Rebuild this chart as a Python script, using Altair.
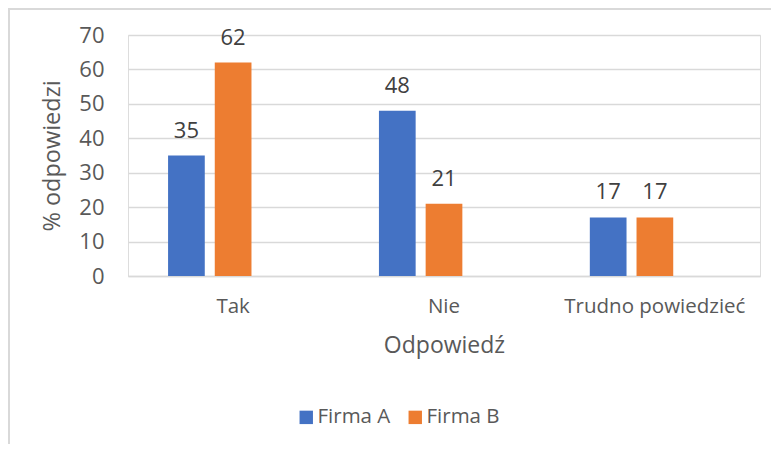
import altair as alt
import pandas as pd

categories = ["Tak", "Nie", "Trudno powiedzieć"]
series = ["Firma A", "Firma B"]
firma_a = [35, 48, 17]
firma_b = [62, 21, 17]
colors = ["#4472C4", "#ED7D31"]

rows = []
for i, c in enumerate(categories):
    rows.append({"odp": c, "firma": "Firma A", "val": firma_a[i]})
    rows.append({"odp": c, "firma": "Firma B", "val": firma_b[i]})
df = pd.DataFrame(rows)

W, H = 632, 241
FONT = "Open Sans"

x = alt.X("odp:N", sort=categories, title="Odpowiedź",
          scale=alt.Scale(paddingInner=0.383, paddingOuter=0.19),
          axis=alt.Axis(labelAngle=0, ticks=False, domain=True, domainColor="#d9d9d9",
                        domainWidth=1.5, labelPadding=20, titlePadding=18, labelLimit=400,
                        labelFontSize=20.5, titleFontSize=23, labelColor="#595959",
                        titleColor="#595959", labelFont=FONT, titleFont=FONT,
                        titleFontWeight="normal"))
xo = alt.XOffset("firma:N", scale=alt.Scale(domain=["Firma A", "Firma B", "_"],
                                            paddingInner=0.214, paddingOuter=0))
y = alt.Y("val:Q", title="% odpowiedzi",
          scale=alt.Scale(domain=[0, 70], nice=False),
          axis=alt.Axis(values=list(range(0, 71, 10)), domain=False, ticks=False,
                        labelPadding=24, gridColor="#d9d9d9", gridWidth=1.5,
                        labelFontSize=22, titleFontSize=23.5, labelColor="#595959",
                        titleColor="#595959", labelFont=FONT, titleFont=FONT,
                        titleFontWeight="normal", titlePadding=14))

base = alt.Chart(df)
bars = base.mark_bar().encode(
    x=x, xOffset=xo, y=y,
    color=alt.Color("firma:N", scale=alt.Scale(domain=series, range=colors),
                    legend=alt.Legend(title=None, orient="none", direction="horizontal",
                                      legendX=168, legendY=372, symbolType="square",
                                      symbolSize=180, symbolStrokeWidth=0,
                                      labelFontSize=20.5, labelColor="#595959",
                                      labelFont=FONT, columnPadding=14, labelOffset=1,
                                      symbolOpacity=1)),
)
labels = base.mark_text(baseline="middle", dy=-25, fontSize=22, color="#404040",
                        font=FONT).encode(
    x=x, xOffset=xo, y=y, text=alt.Text("val:Q"))

border = alt.Chart(pd.DataFrame({"a": [0]})).mark_rect(
    fillOpacity=0, stroke="#d9d9d9", strokeWidth=2).encode(
    x=alt.value(-119), x2=alt.value(W + 40), y=alt.value(-26), y2=alt.value(H + 200))

chart = alt.layer(border, bars, labels).properties(
    width=W, height=H,
    autosize=alt.AutoSizeParams(type="none"),
    padding={"left": 120, "top": 27, "right": 11, "bottom": 168},
).configure_view(stroke=None).configure(background="white")

chart.save("out.html", embed_options={"renderer": "svg", "actions": False})
